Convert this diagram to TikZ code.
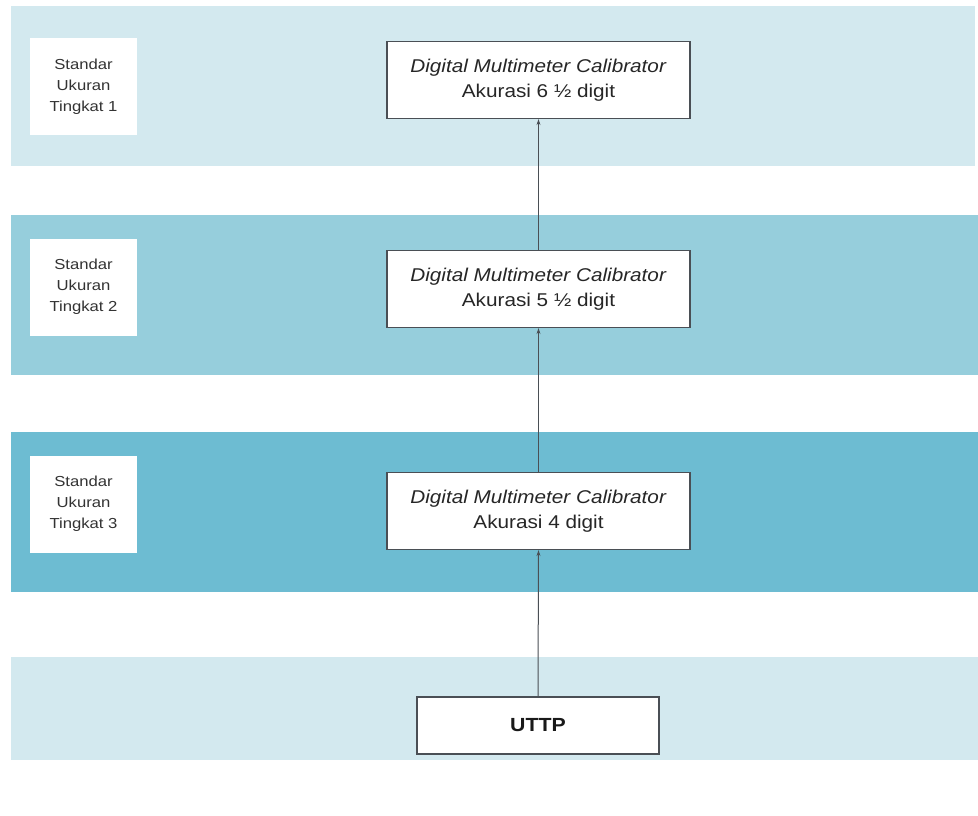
\documentclass[tikz,border=0pt]{standalone}
\usepackage{fontspec}
\setmainfont{Liberation Sans}
\newfontfamily\widesans[FakeStretch=1.12]{Liberation Sans}
\newfontfamily\labelsans[FakeStretch=1.15]{Liberation Sans}
\usetikzlibrary{arrows.meta}
\definecolor{bandlight}{HTML}{D3E9EF}
\definecolor{bandmid}{HTML}{96CEDC}
\definecolor{banddark}{HTML}{6DBCD2}
\definecolor{boxline}{HTML}{4A4F55}
\tikzset{
  levelbox/.style={fill=white, draw=none, minimum width=107pt, minimum height=97pt,
    align=center, font=\labelsans\fontsize{14.5}{21}\selectfont, text=black!80},
  devbox/.style={fill=white, draw=boxline, line width=1.2pt, minimum width=303pt,
    minimum height=77pt, align=center, font=\widesans\fontsize{18.5}{25.5}\selectfont, text=black!85},
  uttpbox/.style={fill=white, draw=boxline, line width=1.2pt, minimum width=242pt,
    minimum height=57pt, font=\widesans\fontsize{19}{22}\selectfont\bfseries, text=black!90},
  link/.style={draw=boxline, line width=1pt, -{Stealth[length=6pt,width=4pt]}}
}
\begin{document}
\begin{tikzpicture}[x=1pt,y=-1pt]
  \useasboundingbox (0,0) rectangle (978,815);
  \fill[white] (0,0) rectangle (978,815);
  % horizontal level bands
  \fill[bandlight] (11,6) rectangle (975,166);
  \fill[bandmid] (11,215) rectangle (978,375);
  \fill[banddark] (11,432) rectangle (978,592);
  \fill[bandlight] (11,657) rectangle (978,760);
  % level labels
  \node[levelbox] (l1) at (83.5,86.5) {Standar\\Ukuran\\Tingkat 1};
  \node[levelbox] (l2) at (83.5,287) {Standar\\Ukuran\\Tingkat 2};
  \node[levelbox] (l3) at (83.5,504) {Standar\\Ukuran\\Tingkat 3};
  % calibrators
  \node[devbox] (d1) at (538.5,80) {\textit{Digital Multimeter Calibrator}\\Akurasi 6 ½ digit};
  \node[devbox] (d2) at (538.5,289) {\textit{Digital Multimeter Calibrator}\\Akurasi 5 ½ digit};
  \node[devbox] (d3) at (538.5,511) {\textit{Digital Multimeter Calibrator}\\Akurasi 4 digit};
  \node[uttpbox] (u) at (538,725.5) {UTTP};
  % traceability chain
  \draw[link] (u.north) -- (d3.south);
  \draw[link] (d3.north) -- (d2.south);
  \draw[link] (d2.north) -- (d1.south);
\end{tikzpicture}
\end{document}
